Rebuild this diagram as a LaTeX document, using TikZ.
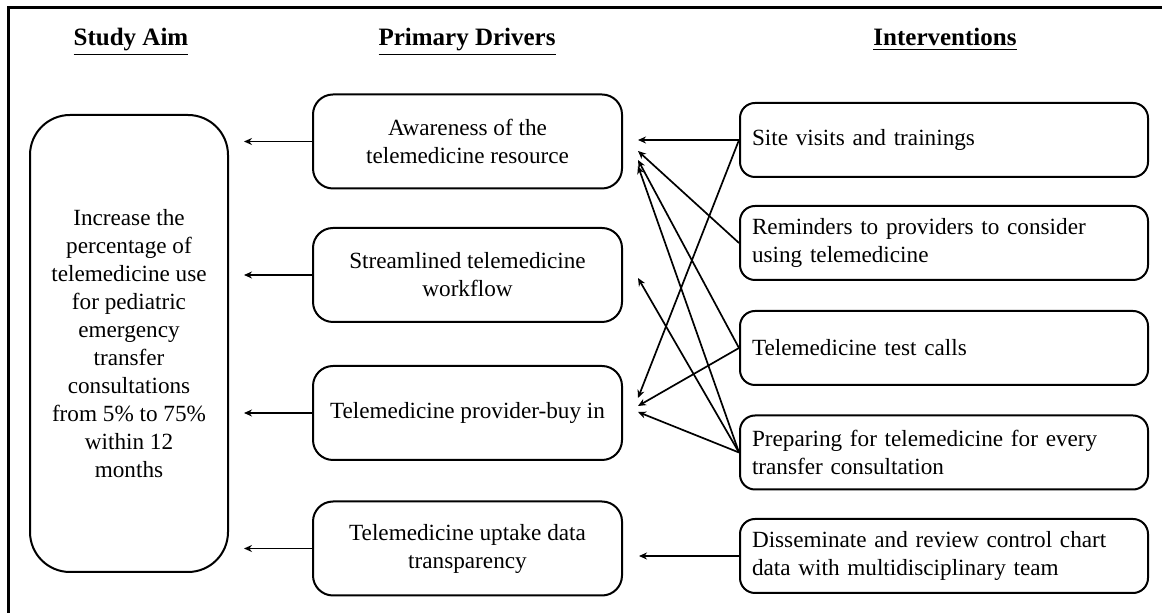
\documentclass[tikz,border=0pt]{standalone}
\usepackage{fontspec}
\setmainfont{Liberation Serif}
\usetikzlibrary{arrows.meta}
\begin{document}
\begin{tikzpicture}[x=0.5pt,y=-0.5pt,
 box/.style={draw, line width=1pt, align=center, inner sep=0pt, font=\fontsize{11.6}{14}\selectfont},
 aimbox/.style={box, rounded corners=20pt, minimum width=99pt, minimum height=228.5pt},
 drvbox/.style={box, rounded corners=10pt, minimum width=154.5pt, minimum height=47pt},
 intbox/.style={box, rounded corners=7.5pt, minimum width=204pt, minimum height=37pt, text width=192pt, align=left, inner xsep=6pt},
 head/.style={font=\fontsize{12.5}{15}\selectfont\bfseries, anchor=base, inner sep=0pt},
 arr/.style={-{Stealth[length=4pt,width=3.5pt]}, line width=0.85pt},
]
\useasboundingbox (0,0) rectangle (1162,613);
\draw[line width=1.5pt] (8,613) -- (8,8) -- (1162,8);

% headings
\node[head] (h1) at (131,46) {\underline{Study Aim}};
\node[head] (h2) at (467,46) {\underline{Primary Drivers}};
\node[head] (h3) at (945,46) {\underline{Interventions}};

% study aim
\node[aimbox] (aim) at (129,343.5) {Increase the\\percentage of\\telemedicine use\\for pediatric\\emergency\\transfer\\consultations\\from 5\% to 75\%\\within 12\\months};

% primary drivers
\node[drvbox] (d1) at (467.5,141.5) {Awareness of the\\telemedicine resource};
\node[drvbox] (d2) at (467.5,275) {Streamlined telemedicine\\workflow};
\node[drvbox] (d3) at (467.5,413) {Telemedicine provider-buy in};
\node[drvbox] (d4) at (467.5,548.5) {Telemedicine uptake data\\transparency};

% interventions
\node[intbox] (i1) at (944,140) {Site visits and trainings};
\node[intbox] (i2) at (944,243) {Reminders to providers to consider\\using telemedicine};
\node[intbox] (i3) at (944,348) {Telemedicine test calls};
\node[intbox] (i4) at (944,452.5) {Preparing for telemedicine for every\\transfer consultation};
\node[intbox] (i5) at (944,556) {Disseminate and review control chart\\data with multidisciplinary team};

% driver -> aim arrows
\foreach \d in {d1,d2,d3,d4}
  \draw[arr, shorten >=7.5pt] (\d.west) -- (\d.west -| aim.east);

% target points near drivers
\coordinate (tA1) at (638,140);
\coordinate (tA2) at (638,151);
\coordinate (tA3) at (638,160);
\coordinate (tA4) at (638,166);
\coordinate (tB)  at (638,278);
\coordinate (tC1) at (638,398);
\coordinate (tC2) at (638,406);
\coordinate (tC3) at (638,412);

% intervention -> driver arrows
\draw[arr] (i1.west) -- (tA1);
\draw[arr] (i1.west) -- (tC1);
\draw[arr] (i2.west) -- (tA2);
\draw[arr] (i3.west) -- (tA3);
\draw[arr] (i3.west) -- (tC2);
\draw[arr] (i4.west) -- (tA4);
\draw[arr] (i4.west) -- (tB);
\draw[arr] (i4.west) -- (tC3);
\draw[arr, shorten >=8pt] (i5.west) -- (i5.west -| d4.east);
\end{tikzpicture}
\end{document}
